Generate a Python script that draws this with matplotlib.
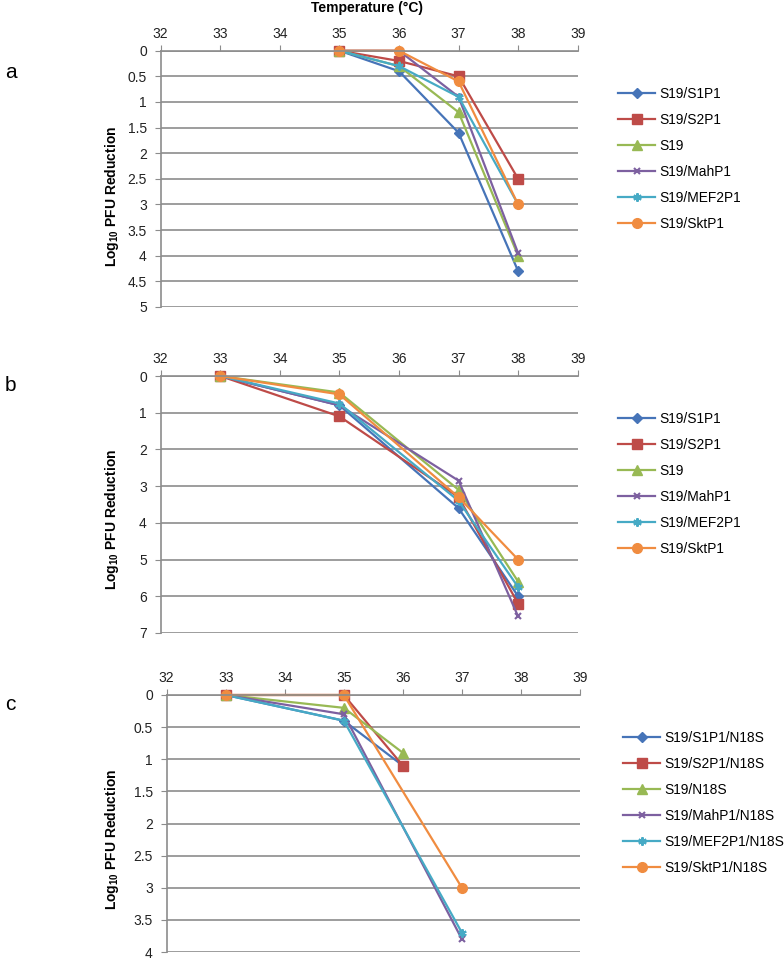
import numpy as np
import matplotlib
matplotlib.use('Agg')
import matplotlib.pyplot as plt

plt.rcParams['font.family'] = ['Liberation Sans', 'DejaVu Sans']
plt.rcParams['mathtext.fontset'] = 'custom'
plt.rcParams['mathtext.rm'] = 'Liberation Sans'
plt.rcParams['mathtext.bf'] = 'Liberation Sans:bold'

# ---- data ----
names_ab = ['S19/S1P1', 'S19/S2P1', 'S19', 'S19/MahP1', 'S19/MEF2P1', 'S19/SktP1']
names_c = ['S19/S1P1/N18S', 'S19/S2P1/N18S', 'S19/N18S', 'S19/MahP1/N18S',
           'S19/MEF2P1/N18S', 'S19/SktP1/N18S']

temp_a = [35, 36, 37, 38]
a_s1p1 = [0, 0.4, 1.6, 4.3]
a_s2p1 = [0, 0.2, 0.5, 2.5]
a_s19 = [0, 0.3, 1.2, 4.0]
a_mahp1 = [0, 0, 0.9, 3.95]
a_mef2p1 = [0, 0.3, 0.9, 3.0]
a_sktp1 = [0, 0, 0.6, 3.0]

temp_b = [33, 35, 37, 38]
b_s1p1 = [0, 0.8, 3.6, 6.0]
b_s2p1 = [0, 1.1, 3.3, 6.2]
b_s19 = [0, 0.45, 3.1, 5.6]
b_mahp1 = [0, 0.8, 2.85, 6.55]
b_mef2p1 = [0, 0.75, 3.4, 5.75]
b_sktp1 = [0, 0.5, 3.3, 5.0]

temp_c_short = [33, 35, 36]
temp_c_long = [33, 35, 37]
c_s1p1 = [0, 0.4, 1.1]
c_s2p1 = [0, 0, 1.1]
c_n18s = [0, 0.2, 0.9]
c_mahp1 = [0, 0.3, 3.8]
c_mef2p1 = [0, 0.4, 3.7]
c_sktp1 = [0, 0, 3.0]

colors = ['#4674B8', '#BE4B48', '#98B954', '#7D60A0', '#46AAC5', '#F08C40']
markers = ['D', 's', '^', 'x', (6, 2, 0), 'o']
msizes = [5, 6.5, 6.5, 5, 6, 7]

W, H = 784, 960
fig = plt.figure(figsize=(W / 100, H / 100), dpi=100)


def make_axes(left, right, top, bottom):
    return fig.add_axes([left / W, 1 - bottom / H, (right - left) / W, (bottom - top) / H])


def style(ax, ymax, ystep):
    grey = '#8C8C8C'
    ax.set_xlim(32, 39)
    ax.set_ylim(ymax, 0)
    ax.set_xticks(np.arange(32, 40))
    ax.set_yticks(np.arange(0, ymax + ystep / 2, ystep))
    ax.set_yticklabels(['%g' % v for v in np.arange(0, ymax + ystep / 2, ystep)])
    ax.xaxis.tick_top()
    ax.tick_params(axis='both', direction='out', length=4, color=grey,
                   labelsize=10, labelcolor='#222222', pad=3)
    ax.tick_params(axis='y', pad=6)
    ax.grid(axis='y', color=grey, linewidth=1.2)
    ax.set_axisbelow(True)
    for s in ['right', 'bottom']:
        ax.spines[s].set_visible(False)
    for s in ['left', 'top']:
        ax.spines[s].set_color(grey)
        ax.spines[s].set_linewidth(1.2)


def draw(ax, xs, series, labels, leg_x, leg_y):
    for i, (x, y) in enumerate(zip(xs, series)):
        mew = 1.5 if i in (3, 4) else 1
        ax.plot(x, y, color=colors[i], marker=markers[i], markersize=msizes[i],
                markeredgewidth=mew, linewidth=1.6, label=labels[i], clip_on=False)
    ax.legend(loc='upper left', bbox_to_anchor=(leg_x / W, 1 - leg_y / H),
              bbox_transform=fig.transFigure, frameon=False, fontsize=9.9,
              handlelength=2.7, handletextpad=0.3, labelspacing=0.87,
              borderpad=0, borderaxespad=0)


ax_a = make_axes(160.7, 577.7, 50.7, 307)
style(ax_a, 5, 0.5)
draw(ax_a, [temp_a] * 6, [a_s1p1, a_s2p1, a_s19, a_mahp1, a_mef2p1, a_sktp1],
     names_ab, 618, 87)

ax_b = make_axes(160.7, 577.7, 376, 633)
style(ax_b, 7, 1)
draw(ax_b, [temp_b] * 6, [b_s1p1, b_s2p1, b_s19, b_mahp1, b_mef2p1, b_sktp1],
     names_ab, 618, 412)

ax_c = make_axes(166.7, 580, 695, 952)
style(ax_c, 4, 0.5)
draw(ax_c, [temp_c_short] * 3 + [temp_c_long] * 3,
     [c_s1p1, c_s2p1, c_n18s, c_mahp1, c_mef2p1, c_sktp1],
     names_c, 623, 731)

fig.text(367 / W, 1 - 8 / H, 'Temperature (°C)', ha='center', va='center',
         fontsize=10, fontweight='bold')

ylab = r'Log$_{\mathregular{10}}$ PFU Reduction'
for yc in [196, 519, 839]:
    fig.text(112 / W, 1 - yc / H, ylab, rotation=90, ha='center', va='center',
             fontsize=10, fontweight='bold')

for letter, yc in [('a', 72), ('b', 385), ('c', 705)]:
    fig.text(5 / W, 1 - yc / H, letter, ha='left', va='center', fontsize=15)

fig.savefig('out.png', dpi=100)
